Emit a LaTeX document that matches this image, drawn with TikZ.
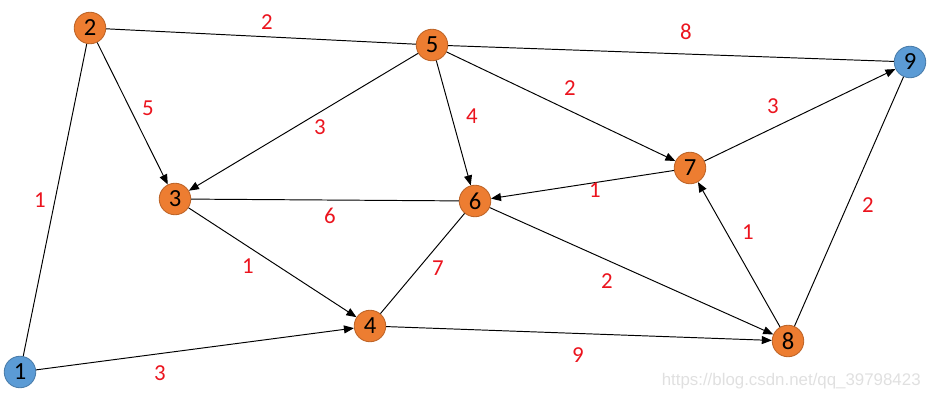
\documentclass[tikz,border=0pt]{standalone}
\usepackage{fontspec}
\setmainfont{Carlito}
\setsansfont{Liberation Sans}
\usepackage{xcolor}
\usepackage{tikz}
\usetikzlibrary{arrows.meta}

\begin{document}
\begin{tikzpicture}[font=\fontsize{13}{15}\selectfont, >={Triangle[length=2mm,width=1.6mm]}, line width=0.55pt]
  \definecolor{vorange}{RGB}{237,125,49}
  \definecolor{vblue}{RGB}{91,155,213}
  \definecolor{wred}{RGB}{235,20,30}
  \tikzset{
    vtx/.style={circle, draw=vorange!80!black, line width=0.5pt, fill=vorange, minimum size=0.63cm, inner sep=0pt, font=\fontsize{14}{16}\selectfont},
    vend/.style={vtx, draw=vblue!80!black, fill=vblue},
    wlab/.style={text=wred, inner sep=1pt}
  }
  \useasboundingbox (0,0) rectangle (18.72,-8.02);
  % vertices
  \node[vend] (v1) at (0.40,-7.44) {1};
  \node[vtx] (v2) at (1.80,-0.56) {2};
  \node[vtx] (v3) at (3.50,-3.98) {3};
  \node[vtx] (v4) at (7.40,-6.52) {4};
  \node[vtx] (v5) at (8.64,-0.90) {5};
  \node[vtx] (v6) at (9.50,-4.02) {6};
  \node[vtx] (v7) at (13.80,-3.36) {7};
  \node[vtx] (v8) at (15.76,-6.82) {8};
  \node[vend] (v9) at (18.20,-1.24) {9};
  % edges
  \draw (v1) -- (v2);
  \draw (v2) -- (v5);
  \draw[->] (v2) -- (v3);
  \draw (v5) -- (v9);
  \draw[->] (v5) -- (v3);
  \draw[->] (v5) -- (v6);
  \draw[->] (v5) -- (v7);
  \draw[->] (v7) -- (v9);
  \draw[->] (v7) -- (v6);
  \draw (v3) -- (v6);
  \draw[->] (v3) -- (v4);
  \draw (v6) -- (v4);
  \draw[->] (v6) -- (v8);
  \draw[->] (v8) -- (v7);
  \draw (v9) -- (v8);
  \draw[->] (v1) -- (v4);
  \draw[->] (v4) -- (v8);
  % weights
  \node[wlab] (w12) at (0.80,-4.00) {1};
  \node[wlab] (w25) at (5.34,-0.44) {2};
  \node[wlab] (w23) at (2.96,-2.16) {5};
  \node[wlab] (w59) at (13.72,-0.64) {8};
  \node[wlab] (w53) at (6.40,-2.54) {3};
  \node[wlab] (w56) at (9.44,-2.32) {4};
  \node[wlab] (w57) at (11.40,-1.76) {2};
  \node[wlab] (w79) at (15.46,-2.12) {3};
  \node[wlab] (w76) at (11.90,-3.80) {1};
  \node[wlab] (w36) at (6.60,-4.32) {6};
  \node[wlab] (w34) at (4.96,-5.32) {1};
  \node[wlab] (w64) at (8.76,-5.36) {7};
  \node[wlab] (w68) at (12.14,-5.62) {2};
  \node[wlab] (w87) at (14.96,-4.64) {1};
  \node[wlab] (w98) at (17.36,-4.10) {2};
  \node[wlab] (w14) at (3.20,-7.46) {3};
  \node[wlab] (w48) at (11.56,-7.10) {9};
  \node[anchor=east, text=black!12, font=\sffamily\fontsize{9.6}{12}\selectfont] (mark) at (18.54,-7.62) {https://blog.csdn.net/qq\_39798423};
\end{tikzpicture}
\end{document}
